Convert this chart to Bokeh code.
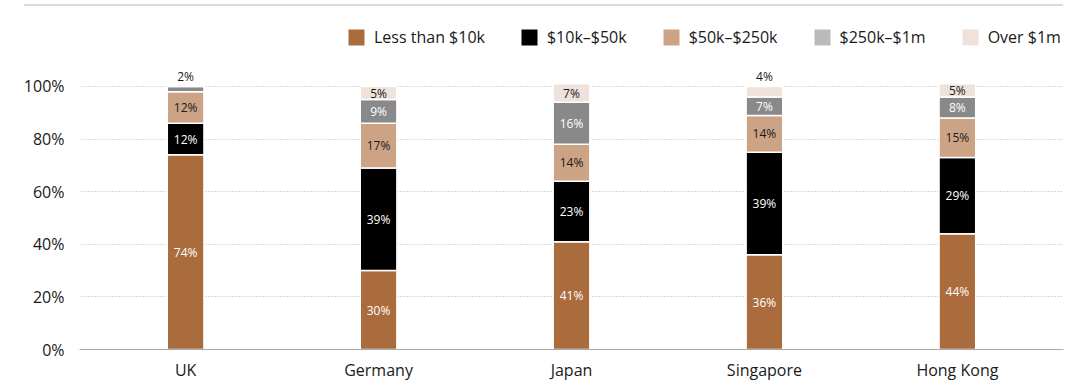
from bokeh.plotting import figure
from bokeh.models import (ColumnDataSource, Range1d, FixedTicker, Legend, LegendItem, Div)
from bokeh.layouts import column
from bokeh.core.properties import value
from bokeh.embed import file_html
from bokeh.resources import INLINE

# ---- data ----
categories = ["UK", "Germany", "Japan", "Singapore", "Hong Kong"]
series_names = ["Less than $10k", "$10k–$50k", "$50k–$250k", "$250k–$1m", "Over $1m"]
less_10k = [74, 30, 41, 36, 44]
k10_50k = [12, 39, 23, 39, 29]
k50_250k = [12, 17, 14, 14, 15]
k250_1m = [2, 9, 16, 7, 8]
over_1m = [0, 5, 7, 4, 5]
y_ticks = [0, 20, 40, 60, 80, 100]

bar_colors = ["#aa6b3d", "#000000", "#cda386", "#898989", "#efe2da"]
legend_colors = ["#aa6b3d", "#000000", "#cda386", "#b9babb", "#efe2da"]
label_colors = ["#ffffff", "#ffffff", "#1a1a1a", "#ffffff", "#1a1a1a"]

FONT = "Open Sans"
series = [less_10k, k10_50k, k50_250k, k250_1m, over_1m]
keys = ["s0", "s1", "s2", "s3", "s4"]
xs = list(range(len(categories)))

data = {"x": xs}
for k, s in zip(keys, series):
    data[k] = s
source = ColumnDataSource(data)

p = figure(width=1075, height=377, output_backend="svg", toolbar_location=None,
           x_range=Range1d(-0.55, 4.55), y_range=Range1d(0, 130.4),
           min_border_left=79, min_border_right=12, min_border_top=0,
           min_border_bottom=26)
p.outline_line_color = None

p.vbar_stack(keys, x="x", width=0.19, source=source, color=bar_colors,
             line_color="white", line_width=1.5)

# segment labels
in_x, in_y, in_t, in_c = [], [], [], []
ab_x, ab_y, ab_t = [], [], []
for i in xs:
    base = 0
    total = sum(s[i] for s in series)
    for j, s in enumerate(series):
        v = s[i]
        if v <= 0:
            continue
        if v >= 5:
            in_x.append(i); in_y.append(base + v / 2); in_t.append(f"{v}%"); in_c.append(label_colors[j])
        else:
            ab_x.append(i); ab_y.append(total); ab_t.append(f"{v}%")
        base += v

p.text(x=in_x, y=in_y, text=in_t, text_color=in_c, text_align="center",
       text_baseline="middle", text_font=value(FONT), text_font_size="12px")
p.text(x=ab_x, y=ab_y, text=ab_t, text_color="#1a1a1a", text_align="center",
       text_baseline="bottom", y_offset=-1, text_font=value(FONT), text_font_size="12px")

# legend (legend-only renderers, no visible marks)
nan = float("nan")
items = []
for name, c in zip(series_names, legend_colors):
    r = p.quad(left=[nan], right=[nan], top=[nan], bottom=[nan], fill_color=c, line_color=None)
    items.append(LegendItem(label=name, renderers=[r]))
legend = Legend(items=items, orientation="horizontal", location=(267, 301),
                glyph_width=20, glyph_height=20, label_height=20, label_standoff=8,
                spacing=34, padding=0, margin=0, border_line_color=None,
                background_fill_alpha=0, label_text_font=FONT,
                label_text_font_size="16px", label_text_color="#1a1a1a")
p.add_layout(legend, "center")

# axes
p.xaxis.ticker = FixedTicker(ticks=xs)
p.xaxis.major_label_overrides = {i: c for i, c in zip(xs, categories)}
p.xaxis.major_tick_line_color = None
p.xaxis.minor_tick_line_color = None
p.xaxis.axis_line_color = "#aaaaaa"
p.xaxis.major_label_standoff = 3
p.xaxis.major_label_text_font = FONT
p.xaxis.major_label_text_font_size = "16px"
p.xaxis.major_label_text_color = "#1a1a1a"

p.yaxis.ticker = FixedTicker(ticks=y_ticks)
p.yaxis.major_label_overrides = {t: f"{t}%" for t in y_ticks}
p.yaxis.major_tick_line_color = None
p.yaxis.minor_tick_line_color = None
p.yaxis.axis_line_color = None
p.yaxis.major_label_standoff = 9
p.yaxis.major_label_text_font = FONT
p.yaxis.major_label_text_font_size = "16px"
p.yaxis.major_label_text_color = "#1a1a1a"

p.xgrid.grid_line_color = None
p.ygrid.grid_line_color = "#b5b5b5"
p.ygrid.grid_line_dash = "1 2"
p.ygrid.grid_line_width = 1

top_line = Div(text="", width=1039, height=2, margin=(4, 0, 0, 24),
               styles={"background-color": "#dadada"})

layout = column(top_line, p, spacing=0)
open("out.html", "w").write(file_html(layout, INLINE))
